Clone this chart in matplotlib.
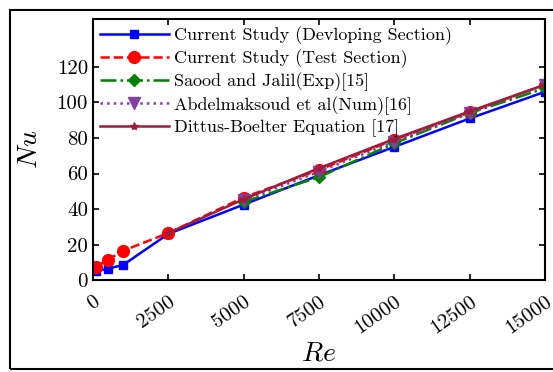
import matplotlib
matplotlib.use("Agg")
import matplotlib.pyplot as plt
from matplotlib.patches import Rectangle

plt.rcParams['font.family'] = 'serif'
plt.rcParams['font.serif'] = ['cmr10', 'DejaVu Serif']
plt.rcParams['mathtext.fontset'] = 'cm'
plt.rcParams['axes.formatter.use_mathtext'] = True

# Data
re_dev = [100, 500, 1000, 2500, 5000, 7500, 10000, 12500, 15000]
nu_dev = [5, 6.5, 8.5, 26, 42.5, 59, 75, 91, 106]

re_test = [100, 500, 1000, 2500, 5000, 7500, 10000, 12500, 15000]
nu_test = [7.5, 11.5, 16.5, 26.5, 46.5, 62, 79, 94.5, 110]

re_saood = [5000, 7500, 10000, 12500, 15000]
nu_saood = [44, 58, 77, 94, 108]

re_abdel = [5000, 7500, 10000, 12500, 15000]
nu_abdel = [45, 61, 78, 94, 110]

re_dittus = [2500, 5000, 7500, 10000, 12500, 15000]
nu_dittus = [26.5, 45.5, 63, 79.5, 95, 110]

xticks = [0, 2500, 5000, 7500, 10000, 12500, 15000]
yticks = [0, 20, 40, 60, 80, 100, 120]

fig = plt.figure(figsize=(5.53, 3.72), dpi=100)
ax = fig.add_axes([0.168, 0.247, 0.8175, 0.702])

ax.plot(re_dev, nu_dev, '-s', color='blue', lw=1.8, ms=6,
        label='Current Study (Devloping Section)')
ax.plot(re_test, nu_test, '--o', color='red', lw=1.8, ms=8.5,
        label='Current Study (Test Section)')
ax.plot(re_saood, nu_saood, '-.D', color='green', lw=1.8, ms=6,
        label='Saood and Jalil(Exp)[15]')
ax.plot(re_abdel, nu_abdel, ':v', color='#8040a0', lw=1.8, ms=8,
        label='Abdelmaksoud et al(Num)[16]')
ax.plot(re_dittus, nu_dittus, '-*', color='#a01c3c', lw=1.8, ms=6,
        label='Dittus-Boelter Equation [17]')

ax.set_xlim(0, 15000)
ax.set_ylim(0, 147)
ax.set_xticks(xticks)
ax.set_yticks(yticks)
ax.set_xticklabels([str(t) for t in xticks], rotation=35, fontsize=15,
                   ha='right', va='top', rotation_mode='anchor')
ax.set_yticklabels([str(t) for t in yticks], fontsize=15)
ax.tick_params(direction='in', top=True, right=True, length=4, width=1.2)
ax.tick_params(axis='x', pad=9)
for s in ax.spines.values():
    s.set_linewidth(1.5)

ax.set_xlabel(r'$Re$', fontsize=20, labelpad=2)
ax.set_ylabel(r'$Nu$', fontsize=20, labelpad=10)

leg = ax.legend(loc='upper left', fontsize=13, borderaxespad=0.1,
                handlelength=3.8, handletextpad=0.3, frameon=False,
                labelspacing=0.25, borderpad=0.3)

fig.patches.append(Rectangle((0.018, 0.008), 1.1, 0.965, transform=fig.transFigure,
                             fill=False, edgecolor='black', lw=1.5))

fig.savefig('out.png', dpi=100)
